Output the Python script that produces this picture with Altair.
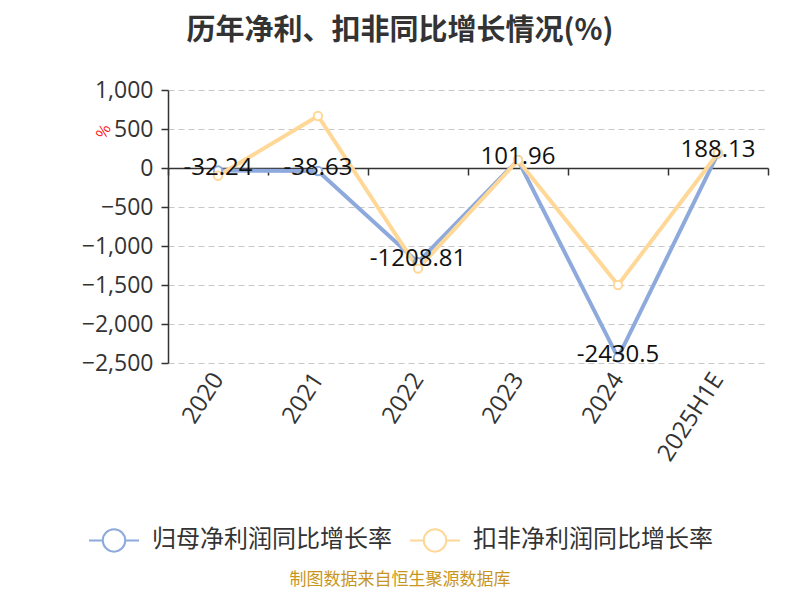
import altair as alt
import pandas as pd

years = ["2020", "2021", "2022", "2023", "2024", "2025H1E"]
series_names = ["归母净利润同比增长率", "扣非净利润同比增长率"]
parent_growth = [-32.24, -38.63, -1208.81, 101.96, -2430.5, 188.13]
deducted_growth = [-100, 667, -1290, 100, -1500, 190]
y_ticks = [-2500, -2000, -1500, -1000, -500, 0, 500, 1000]
colors = ["#8eaadc", "#ffd898"]
FONT = "Noto Sans CJK SC"
NUMFONT = "Open Sans"

rows = []
for s, vals in zip(series_names, [parent_growth, deducted_growth]):
    for y, v in zip(years, vals):
        rows.append({"year": y, "series": s, "value": v})
df = pd.DataFrame(rows)
lab = pd.DataFrame({"year": years, "value": parent_growth,
                    "label": [str(v) for v in parent_growth]})

x = alt.X("year:N", sort=years, title=None,
          scale=alt.Scale(paddingInner=0, paddingOuter=0),
          axis=alt.Axis(offset=-195, domainColor="#333", domainWidth=1.5,
                        tickColor="#333", tickWidth=1.5, tickSize=7,
                        tickBand="extent", labelAngle=-57, labelAlign="right",
                        labelBaseline="middle", labelPadding=200,
                        labelFontSize=24, labelColor="#333", labelFont=NUMFONT,
                        grid=False))
y = alt.Y("value:Q", title="%",
          scale=alt.Scale(domain=[-2500, 1000], nice=False, zero=False),
          axis=alt.Axis(values=y_ticks, format=",.0f", labelFontSize=23,
                        labelColor="#333", labelFont=NUMFONT, domainColor="#333",
                        domainWidth=1.5, tickColor="#333", tickWidth=1.5,
                        tickSize=7, labelPadding=8, grid=True, gridColor="#c8c8c8",
                        gridDash=[6, 4], gridWidth=1.2,
                        titleColor="#ff0000", titleFontSize=15,
                        titleFontWeight="normal", titleAngle=-60,
                        titleX=-58, titleY=45, titleFont=FONT))
color = alt.Color("series:N", sort=series_names,
                  scale=alt.Scale(domain=series_names, range=colors),
                  legend=alt.Legend(title=None, orient="none", direction="horizontal",
                                    legendX=-80, legendY=424,
                                    symbolType="M-1,0L-0.45,0M0.45,0L1,0M-0.45,0A0.45,0.45,0,1,1,0.45,0A0.45,0.45,0,1,1,-0.45,0",
                                    symbolSize=2500, symbolStrokeWidth=2,
                                    symbolFillColor="white",
                                    labelFontSize=24, labelColor="#333",
                                    labelFont=FONT, labelOffset=12, labelLimit=0,
                                    columnPadding=14))

base = alt.Chart(df)
lines = base.mark_line(strokeWidth=4).encode(x=x, y=y, color=color, order=alt.Order("series:N"))
pts = base.mark_point(filled=True, fill="white", size=70, strokeWidth=2, opacity=1).encode(
    x=x, y=y, stroke=alt.Stroke("series:N", scale=alt.Scale(domain=series_names, range=colors), legend=None))
labels = alt.Chart(lab).mark_text(fontSize=24, color="#111", baseline="middle",
                                  dy=-3, font=NUMFONT).encode(x=x, y=y, text="label:N")
footer = alt.Chart(pd.DataFrame({"t": ["制图数据来自恒生聚源数据库"]})).mark_text(
    fontSize=17, color="#c8961e", font=FONT, align="center", baseline="middle").encode(
    x=alt.value(232), y=alt.value(490), text="t:N")

chart = alt.layer(lines, pts, labels, footer).properties(
    width=600, height=273,
    autosize=alt.AutoSizeParams(type="none"),
    padding={"left": 160, "top": 82, "right": 16, "bottom": 228},
    title=alt.TitleParams("历年净利、扣非同比增长情况(%)", anchor="middle", dx=-68,
                          offset=33, fontSize=29, fontWeight="bold", color="#333", font=FONT),
).configure_view(stroke=None)

chart.save("out.html", embed_options={"renderer": "svg", "actions": False})
